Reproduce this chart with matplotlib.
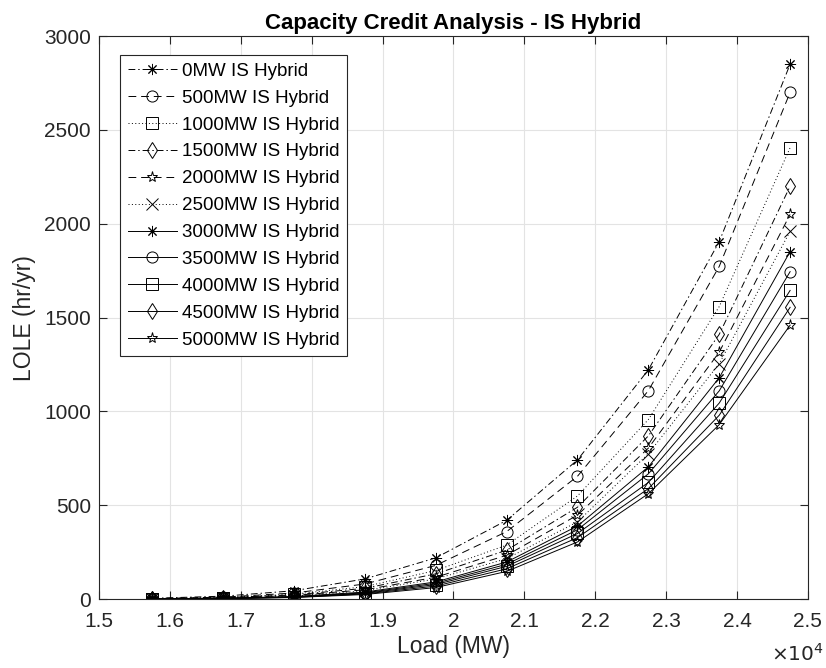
import matplotlib
matplotlib.use("Agg")
import matplotlib.pyplot as plt
from matplotlib.ticker import FuncFormatter

plt.rcParams["font.family"] = ["Liberation Sans", "DejaVu Sans"]

# load points (MW)
load_mw = [15750, 16750, 17750, 18750, 19750, 20750, 21750, 22750, 23750, 24750]

labels = [
    "0MW IS Hybrid", "500MW IS Hybrid", "1000MW IS Hybrid", "1500MW IS Hybrid",
    "2000MW IS Hybrid", "2500MW IS Hybrid", "3000MW IS Hybrid", "3500MW IS Hybrid",
    "4000MW IS Hybrid", "4500MW IS Hybrid", "5000MW IS Hybrid",
]

# LOLE (hr/yr) for each added capacity
lole_0 = [5, 16, 45, 108, 220, 420, 742, 1222, 1905, 2850]
lole_500 = [3, 11, 33, 81, 180, 360, 655, 1111, 1773, 2700]
lole_1000 = [3, 9, 27, 67, 153, 288, 550, 957, 1559, 2405]
lole_1500 = [2, 8, 23, 58, 135, 261, 490, 870, 1411, 2200]
lole_2000 = [2, 7, 20, 50, 117, 234, 448, 805, 1316, 2050]
lole_2500 = [2, 6, 17, 45, 108, 216, 412, 775, 1255, 1960]
lole_3000 = [1, 5, 14, 38, 92, 198, 390, 705, 1180, 1852]
lole_3500 = [1, 4, 13, 34, 85, 186, 370, 668, 1110, 1745]
lole_4000 = [1, 4, 11, 31, 78, 175, 350, 622, 1045, 1645]
lole_4500 = [1, 3, 10, 28, 70, 162, 328, 589, 980, 1555]
lole_5000 = [1, 3, 9, 25, 62, 148, 305, 562, 930, 1460]

series = [lole_0, lole_500, lole_1000, lole_1500, lole_2000, lole_2500,
          lole_3000, lole_3500, lole_4000, lole_4500, lole_5000]

asterisk = (8, 2, 0)
markers = [asterisk, "o", "s", "d", "*", "x", asterisk, "o", "s", "d", "*"]
styles = [(0, (7, 3, 1.5, 3)), (0, (8, 5)), (0, (1, 2.5)), (0, (7, 3, 1.5, 3)),
          (0, (8, 5)), (0, (1, 2.5)), "-", "-", "-", "-", "-"]

dark = "#262626"

fig = plt.figure(figsize=(8.26, 6.68), dpi=100)
ax = fig.add_axes([0.120, 0.103, 0.858, 0.843])

for vals, mk, ls, lab in zip(series, markers, styles, labels):
    ax.plot(load_mw, vals, color="black", linestyle=ls, linewidth=0.7,
            marker=mk, markersize=8, markerfacecolor="none",
            markeredgecolor="black", markeredgewidth=0.7, label=lab)

ax.set_xlim(15000, 25000)
ax.set_ylim(0, 3000)
ax.set_xticks([15000 + 1000 * i for i in range(11)])
ax.set_yticks([0, 500, 1000, 1500, 2000, 2500, 3000])
ax.xaxis.set_major_formatter(FuncFormatter(lambda v, p: f"{v / 1e4:g}"))

ax.grid(True, color="#e3e3e3", linewidth=0.8)
ax.set_axisbelow(True)
for sp in ax.spines.values():
    sp.set_color(dark)
    sp.set_linewidth(0.8)
ax.tick_params(direction="in", length=6, width=0.8, colors=dark,
               labelsize=15, top=True, right=True, labelcolor=dark)
ax.tick_params(axis="x", pad=9)
ax.tick_params(axis="y", pad=6)

ax.set_xlabel("Load (MW)", fontsize=16.5, color=dark, labelpad=3)
ax.set_ylabel("LOLE (hr/yr)", fontsize=16.5, color=dark, labelpad=6)
ax.set_title("Capacity Credit Analysis - IS Hybrid", fontsize=16,
             fontweight="bold", color="black", pad=5)
fig.text(0.998, 0.005, r"$\times10^{4}$", ha="right", va="bottom",
         fontsize=14.5, color=dark)

leg = ax.legend(loc="upper left", bbox_to_anchor=(0.030, 0.966),
                borderaxespad=0, fontsize=13.5, handlelength=2.6,
                labelspacing=0.52, fancybox=False, framealpha=1,
                edgecolor=dark, borderpad=0.4, handletextpad=0.3)
leg.get_frame().set_linewidth(0.8)

fig.savefig("out.png", dpi=100)
